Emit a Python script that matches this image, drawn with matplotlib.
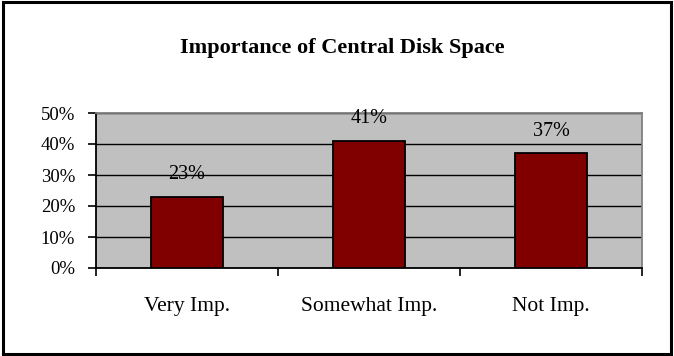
import matplotlib
matplotlib.use("Agg")
import matplotlib.pyplot as plt
from matplotlib.patches import Rectangle
from matplotlib.ticker import FixedLocator, PercentFormatter

categories = ["Very Imp.", "Somewhat Imp.", "Not Imp."]
values = [23, 41, 37]
y_ticks = [0, 10, 20, 30, 40, 50]
title = "Importance of Central Disk Space"

serif = ["Liberation Serif", "DejaVu Serif"]

fig = plt.figure(figsize=(6.74, 3.56), dpi=100)
fig.patch.set_facecolor("white")

# outer frame around the whole chart
fig.patches.append(Rectangle((0.004, 0.006), 0.992, 0.988, transform=fig.transFigure,
                             fill=False, edgecolor="black", linewidth=2.2))

ax = fig.add_axes([96 / 674, 1 - 268 / 356, (642 - 96) / 674, (268 - 113) / 356])
ax.set_facecolor("#C0C0C0")

x = list(range(len(categories)))
bars = ax.bar(x, values, width=0.4, color="#800000", edgecolor="black",
              linewidth=1.3, zorder=3)

ax.set_xlim(-0.5, len(categories) - 0.5)
ax.set_ylim(0, 50)

# horizontal gridlines
ax.set_yticks(y_ticks)
ax.yaxis.set_major_formatter(PercentFormatter(decimals=0))
ax.grid(axis="y", color="black", linewidth=1.0, zorder=1)
ax.set_axisbelow(True)

# category labels centred, boundary tick marks between categories
ax.set_xticks(x)
ax.set_xticklabels(categories, fontsize=15.5, family=serif)
ax.xaxis.set_minor_locator(FixedLocator([i - 0.5 for i in range(len(categories) + 1)]))
ax.tick_params(axis="x", which="major", length=0, pad=21)
ax.tick_params(axis="x", which="minor", length=6, width=1.2, direction="out", color="black")
ax.tick_params(axis="y", length=6, width=1.2, direction="out", pad=9, labelsize=13.5)
for lbl in ax.get_yticklabels():
    lbl.set_family(serif)

for s in ("left", "bottom"):
    ax.spines[s].set_color("black")
    ax.spines[s].set_linewidth(1.3)
for s in ("top", "right"):
    ax.spines[s].set_color("#808080")
    ax.spines[s].set_linewidth(1.3)

# value labels above each bar
for xi, v in zip(x, values):
    ax.annotate(f"{v}%", xy=(xi, v), xytext=(0, 16), textcoords="offset points",
                ha="center", va="center", fontsize=14.5, family=serif, zorder=4)

fig.text(342 / 674, 1 - 48 / 356, title, ha="center", va="center",
         fontsize=16, fontweight="bold", family=serif)

fig.savefig("out.png", dpi=100)
